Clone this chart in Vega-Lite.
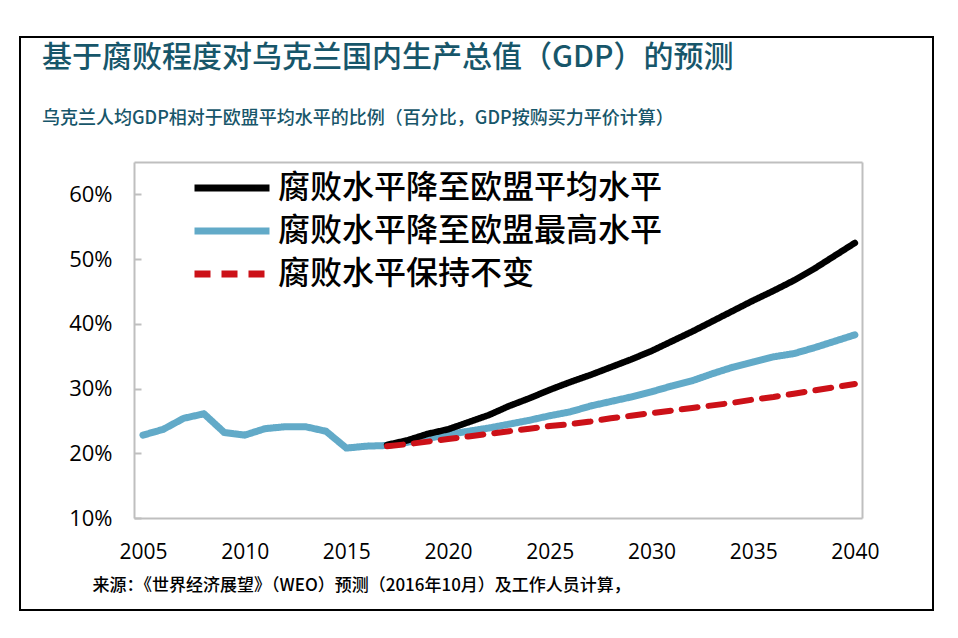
{
  "$schema": "https://vega.github.io/schema/vega-lite/v6.json",
  "width": 913,
  "height": 573,
  "autosize": {"type": "none"},
  "padding": {"left": 20, "top": 37, "right": 25, "bottom": 28},
  "title": {
    "text": "基于腐败程度对乌克兰国内生产总值（GDP）的预测",
    "subtitle": "乌克兰人均GDP相对于欧盟平均水平的比例（百分比，GDP按购买力平价计算）",
    "anchor": "start",
    "frame": "group",
    "dx": 22,
    "offset": -91,
    "font": "Noto Sans CJK SC",
    "fontSize": 30,
    "fontWeight": 500,
    "color": "#17566a",
    "subtitleFont": "Noto Sans CJK SC",
    "subtitleFontSize": 18,
    "subtitleFontWeight": 500,
    "subtitleColor": "#17566a",
    "subtitlePadding": 37
  },
  "config": {
    "view": {"stroke": "#000000", "strokeWidth": 2},
    "font": "Noto Sans CJK SC"
  },
  "resolve": {"axis": {"x": "independent", "y": "independent"}},
  "data": {
    "values": [
      {"year": 2005, "series": "腐败水平降至欧盟最高水平", "value": 22.8},
      {"year": 2006, "series": "腐败水平降至欧盟最高水平", "value": 23.7},
      {"year": 2007, "series": "腐败水平降至欧盟最高水平", "value": 25.4},
      {"year": 2008, "series": "腐败水平降至欧盟最高水平", "value": 26.1},
      {"year": 2009, "series": "腐败水平降至欧盟最高水平", "value": 23.2},
      {"year": 2010, "series": "腐败水平降至欧盟最高水平", "value": 22.8},
      {"year": 2011, "series": "腐败水平降至欧盟最高水平", "value": 23.8},
      {"year": 2012, "series": "腐败水平降至欧盟最高水平", "value": 24.1},
      {"year": 2013, "series": "腐败水平降至欧盟最高水平", "value": 24.1},
      {"year": 2014, "series": "腐败水平降至欧盟最高水平", "value": 23.4},
      {"year": 2015, "series": "腐败水平降至欧盟最高水平", "value": 20.8},
      {"year": 2016, "series": "腐败水平降至欧盟最高水平", "value": 21.1},
      {"year": 2017, "series": "腐败水平降至欧盟最高水平", "value": 21.2},
      {"year": 2018, "series": "腐败水平降至欧盟最高水平", "value": 21.7},
      {"year": 2019, "series": "腐败水平降至欧盟最高水平", "value": 22.3},
      {"year": 2020, "series": "腐败水平降至欧盟最高水平", "value": 22.9},
      {"year": 2021, "series": "腐败水平降至欧盟最高水平", "value": 23.4},
      {"year": 2022, "series": "腐败水平降至欧盟最高水平", "value": 23.9},
      {"year": 2023, "series": "腐败水平降至欧盟最高水平", "value": 24.5},
      {"year": 2024, "series": "腐败水平降至欧盟最高水平", "value": 25.1},
      {"year": 2025, "series": "腐败水平降至欧盟最高水平", "value": 25.8},
      {"year": 2026, "series": "腐败水平降至欧盟最高水平", "value": 26.4},
      {"year": 2027, "series": "腐败水平降至欧盟最高水平", "value": 27.3},
      {"year": 2028, "series": "腐败水平降至欧盟最高水平", "value": 28.0},
      {"year": 2029, "series": "腐败水平降至欧盟最高水平", "value": 28.7},
      {"year": 2030, "series": "腐败水平降至欧盟最高水平", "value": 29.5},
      {"year": 2031, "series": "腐败水平降至欧盟最高水平", "value": 30.4},
      {"year": 2032, "series": "腐败水平降至欧盟最高水平", "value": 31.2},
      {"year": 2033, "series": "腐败水平降至欧盟最高水平", "value": 32.3},
      {"year": 2034, "series": "腐败水平降至欧盟最高水平", "value": 33.3},
      {"year": 2035, "series": "腐败水平降至欧盟最高水平", "value": 34.1},
      {"year": 2036, "series": "腐败水平降至欧盟最高水平", "value": 34.9},
      {"year": 2037, "series": "腐败水平降至欧盟最高水平", "value": 35.4},
      {"year": 2038, "series": "腐败水平降至欧盟最高水平", "value": 36.3},
      {"year": 2039, "series": "腐败水平降至欧盟最高水平", "value": 37.3},
      {"year": 2040, "series": "腐败水平降至欧盟最高水平", "value": 38.3},
      {"year": 2017, "series": "腐败水平降至欧盟平均水平", "value": 21.3},
      {"year": 2018, "series": "腐败水平降至欧盟平均水平", "value": 22.0},
      {"year": 2019, "series": "腐败水平降至欧盟平均水平", "value": 23.0},
      {"year": 2020, "series": "腐败水平降至欧盟平均水平", "value": 23.7},
      {"year": 2021, "series": "腐败水平降至欧盟平均水平", "value": 24.8},
      {"year": 2022, "series": "腐败水平降至欧盟平均水平", "value": 25.9},
      {"year": 2023, "series": "腐败水平降至欧盟平均水平", "value": 27.3},
      {"year": 2024, "series": "腐败水平降至欧盟平均水平", "value": 28.5},
      {"year": 2025, "series": "腐败水平降至欧盟平均水平", "value": 29.8},
      {"year": 2026, "series": "腐败水平降至欧盟平均水平", "value": 31.0},
      {"year": 2027, "series": "腐败水平降至欧盟平均水平", "value": 32.1},
      {"year": 2028, "series": "腐败水平降至欧盟平均水平", "value": 33.3},
      {"year": 2029, "series": "腐败水平降至欧盟平均水平", "value": 34.5},
      {"year": 2030, "series": "腐败水平降至欧盟平均水平", "value": 35.8},
      {"year": 2031, "series": "腐败水平降至欧盟平均水平", "value": 37.3},
      {"year": 2032, "series": "腐败水平降至欧盟平均水平", "value": 38.8},
      {"year": 2033, "series": "腐败水平降至欧盟平均水平", "value": 40.4},
      {"year": 2034, "series": "腐败水平降至欧盟平均水平", "value": 42.0},
      {"year": 2035, "series": "腐败水平降至欧盟平均水平", "value": 43.6},
      {"year": 2036, "series": "腐败水平降至欧盟平均水平", "value": 45.1},
      {"year": 2037, "series": "腐败水平降至欧盟平均水平", "value": 46.7},
      {"year": 2038, "series": "腐败水平降至欧盟平均水平", "value": 48.5},
      {"year": 2039, "series": "腐败水平降至欧盟平均水平", "value": 50.5},
      {"year": 2040, "series": "腐败水平降至欧盟平均水平", "value": 52.5},
      {"year": 2017, "series": "腐败水平保持不变", "value": 21.1},
      {"year": 2018, "series": "腐败水平保持不变", "value": 21.4},
      {"year": 2019, "series": "腐败水平保持不变", "value": 21.8},
      {"year": 2020, "series": "腐败水平保持不变", "value": 22.2},
      {"year": 2021, "series": "腐败水平保持不变", "value": 22.6},
      {"year": 2022, "series": "腐败水平保持不变", "value": 23.0},
      {"year": 2023, "series": "腐败水平保持不变", "value": 23.4},
      {"year": 2024, "series": "腐败水平保持不变", "value": 23.8},
      {"year": 2025, "series": "腐败水平保持不变", "value": 24.2},
      {"year": 2026, "series": "腐败水平保持不变", "value": 24.5},
      {"year": 2027, "series": "腐败水平保持不变", "value": 24.9},
      {"year": 2028, "series": "腐败水平保持不变", "value": 25.4},
      {"year": 2029, "series": "腐败水平保持不变", "value": 25.8},
      {"year": 2030, "series": "腐败水平保持不变", "value": 26.2},
      {"year": 2031, "series": "腐败水平保持不变", "value": 26.6},
      {"year": 2032, "series": "腐败水平保持不变", "value": 27.0},
      {"year": 2033, "series": "腐败水平保持不变", "value": 27.4},
      {"year": 2034, "series": "腐败水平保持不变", "value": 27.8},
      {"year": 2035, "series": "腐败水平保持不变", "value": 28.3},
      {"year": 2036, "series": "腐败水平保持不变", "value": 28.7},
      {"year": 2037, "series": "腐败水平保持不变", "value": 29.2},
      {"year": 2038, "series": "腐败水平保持不变", "value": 29.7},
      {"year": 2039, "series": "腐败水平保持不变", "value": 30.2},
      {"year": 2040, "series": "腐败水平保持不变", "value": 30.7}
    ]
  },
  "layer": [
    {
      "transform": [{"filter": "datum.series === '腐败水平降至欧盟最高水平'"}],
      "mark": {"type": "line", "strokeWidth": 7, "strokeCap": "round", "strokeJoin": "round"},
      "encoding": {
        "x": {
          "field": "year",
          "type": "quantitative",
          "scale": {"domain": [2004.56, 2040.35], "range": [114, 842], "nice": false, "zero": false},
          "axis": {
            "orient": "bottom",
            "offset": -92,
            "values": [2005, 2010, 2015, 2020, 2025, 2030, 2035, 2040],
            "format": "d",
            "grid": false,
            "ticks": false,
            "domainColor": "#bfbfbf",
            "domainWidth": 2,
            "labelFont": "Open Sans",
            "labelFontSize": 21,
            "labelColor": "#000000",
            "labelPadding": 23,
            "labelFlush": false,
            "title": "来源：《世界经济展望》（WEO）预测（2016年10月）及工作人员计算，",
            "titleFont": "Noto Sans CJK SC",
            "titleFontSize": 17,
            "titleFontWeight": 500,
            "titleColor": "#000000",
            "titleAnchor": "start",
            "titleAlign": "left",
            "titleBaseline": "middle",
            "titleX": 72,
            "titleY": 67
          }
        },
        "y": {
          "field": "value",
          "type": "quantitative",
          "scale": {"domain": [10, 65], "range": [481, 125], "nice": false, "zero": false},
          "axis": {
            "orient": "left",
            "offset": -114,
            "values": [10, 20, 30, 40, 50, 60],
            "labelExpr": "datum.value + '%'",
            "grid": false,
            "domainColor": "#bfbfbf",
            "domainWidth": 2,
            "tickColor": "#bfbfbf",
            "tickWidth": 2,
            "tickSize": -7,
            "labelPadding": 29,
            "labelFont": "Open Sans",
            "labelFontSize": 22,
            "labelColor": "#000000",
            "title": null
          }
        },
        "color": {
          "field": "series",
          "type": "nominal",
          "scale": {
            "domain": ["腐败水平降至欧盟平均水平", "腐败水平降至欧盟最高水平", "腐败水平保持不变"],
            "range": ["#000000", "#62aac8", "#cc1118"]
          },
          "legend": {
            "orient": "none",
            "legendX": 196,
            "legendY": 135,
            "title": null,
            "padding": 0,
            "symbolType": "M-3,0H3",
            "symbolSize": 625,
            "symbolStrokeWidth": 7,
            "labelFont": "Noto Sans CJK SC",
            "labelFontSize": 32,
            "labelFontWeight": 500,
            "labelColor": "#000000",
            "labelLimit": 800,
            "labelOffset": 30,
            "rowPadding": 11
          }
        },
        "strokeDash": {
          "field": "series",
          "type": "nominal",
          "scale": {
            "domain": ["腐败水平降至欧盟平均水平", "腐败水平降至欧盟最高水平", "腐败水平保持不变"],
            "range": [[1, 0], [1, 0], [16, 11]]
          }
        }
      }
    },
    {
      "transform": [{"filter": "datum.series === '腐败水平降至欧盟平均水平'"}],
      "mark": {"type": "line", "strokeWidth": 6.5, "strokeCap": "round", "strokeJoin": "round"},
      "encoding": {
        "x": {"field": "year", "type": "quantitative", "axis": null},
        "y": {"field": "value", "type": "quantitative", "axis": null},
        "color": {"field": "series", "type": "nominal"},
        "strokeDash": {"field": "series", "type": "nominal"}
      }
    },
    {
      "transform": [{"filter": "datum.series === '腐败水平保持不变'"}],
      "mark": {"type": "line", "strokeWidth": 6, "strokeCap": "round", "strokeJoin": "round"},
      "encoding": {
        "x": {
          "field": "year",
          "type": "quantitative",
          "axis": {"orient": "top", "offset": -125, "labels": false, "ticks": false, "grid": false, "domainColor": "#bfbfbf", "domainWidth": 2, "title": null}
        },
        "y": {
          "field": "value",
          "type": "quantitative",
          "axis": {"orient": "right", "offset": -71, "labels": false, "ticks": false, "grid": false, "domainColor": "#bfbfbf", "domainWidth": 2, "title": null}
        },
        "color": {"field": "series", "type": "nominal"},
        "strokeDash": {"field": "series", "type": "nominal"}
      }
    }
  ]
}
